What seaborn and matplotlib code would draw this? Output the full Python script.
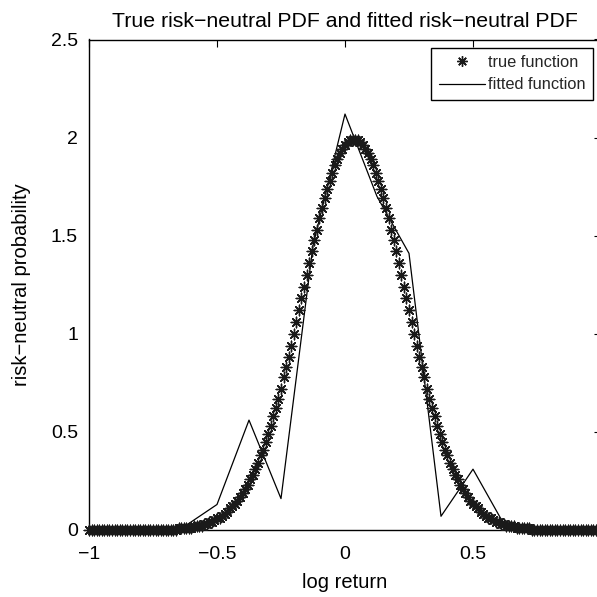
import numpy as np
import matplotlib
matplotlib.use("Agg")
import matplotlib.pyplot as plt
import seaborn as sns
from matplotlib.lines import Line2D

# ---- data ----
x_true = np.round(np.linspace(-1.0, 1.0, 201), 2)
true_pdf = [
    0.00, 0.00, 0.00, 0.00, 0.00, 0.00, 0.00, 0.00, 0.00, 0.00,
    0.00, 0.00, 0.00, 0.00, 0.00, 0.00, 0.00, 0.00, 0.00, 0.00,
    0.00, 0.00, 0.00, 0.00, 0.00, 0.00, 0.00, 0.00, 0.00, 0.00,
    0.00, 0.00, 0.00, 0.00, 0.00,
    0.01, 0.01, 0.01, 0.01, 0.01, 0.01, 0.02, 0.02, 0.02, 0.02,
    0.03, 0.03, 0.04, 0.04, 0.05, 0.06, 0.06, 0.07, 0.08, 0.09,
    0.11, 0.12, 0.13, 0.15, 0.17, 0.19, 0.21, 0.23, 0.26, 0.28,
    0.31, 0.34, 0.38, 0.41, 0.45, 0.49, 0.53, 0.58, 0.62, 0.67,
    0.72, 0.78, 0.83, 0.88, 0.94, 1.00, 1.06, 1.12, 1.18, 1.24,
    1.30, 1.36, 1.42, 1.48, 1.53, 1.59, 1.64, 1.69, 1.74, 1.78,
    1.82, 1.86, 1.89, 1.92, 1.94, 1.96, 1.98, 1.99, 1.99,
    1.99, 1.99, 1.98, 1.96, 1.94, 1.92, 1.89, 1.86, 1.82, 1.78,
    1.74, 1.69, 1.64, 1.59, 1.53, 1.48, 1.42, 1.36, 1.30, 1.24,
    1.18, 1.12, 1.06, 1.00, 0.94, 0.88, 0.83, 0.78, 0.72, 0.67,
    0.62, 0.58, 0.53, 0.49, 0.45, 0.41, 0.38, 0.34, 0.31, 0.28,
    0.26, 0.23, 0.21, 0.19, 0.17, 0.15, 0.13, 0.12, 0.11, 0.09,
    0.08, 0.07, 0.06, 0.06, 0.05, 0.04, 0.04, 0.03, 0.03, 0.02,
    0.02, 0.02, 0.02, 0.01, 0.01, 0.01, 0.01, 0.01, 0.01,
    0.00, 0.00, 0.00, 0.00, 0.00, 0.00, 0.00, 0.00, 0.00, 0.00,
    0.00, 0.00, 0.00, 0.00, 0.00, 0.00, 0.00, 0.00, 0.00, 0.00,
    0.00, 0.00, 0.00, 0.00, 0.00, 0.00, 0.00, 0.00,
]

x_fit = [-1.0, -0.875, -0.75, -0.625, -0.5, -0.375, -0.25, -0.125, 0.0,
         0.125, 0.25, 0.375, 0.5, 0.625, 0.75, 0.875, 1.0]
fit_pdf = [0.0, 0.0, 0.0, 0.02, 0.13, 0.56, 0.16, 1.45, 2.12,
           1.70, 1.41, 0.07, 0.31, 0.02, 0.0, 0.0, 0.0]

x_ticks = [-1, -0.5, 0, 0.5, 1]
x_ticklabels = ["\u22121", "\u22120.5", "0", "0.5", ""]  # "1" falls off the cropped edge
y_ticks = [0, 0.5, 1, 1.5, 2, 2.5]
y_ticklabels = ["0", "0.5", "1", "1.5", "2", "2.5"]

title = "True risk\u2212neutral PDF and fitted risk\u2212neutral PDF"
xlabel = "log return"
ylabel = "risk\u2212neutral probability"
legend_labels = ["true function", "fitted function"]

# ---- style ----
sns.set_style("white")
plt.rcParams["font.family"] = ["Liberation Sans", "DejaVu Sans"]
plt.rcParams["axes.unicode_minus"] = True

fig = plt.figure(figsize=(5.97, 5.97), dpi=100)
W = H = 597.0
ax = fig.add_axes([89 / W, (H - 530) / H, (601 - 89) / W, (530 - 39.5) / H])

asterisk = (8, 2, 0)
mark_color = "#1a1a1a"
sns.scatterplot(x=x_true, y=true_pdf, ax=ax, marker=asterisk, s=58,
                color=mark_color, edgecolor=mark_color, linewidth=1.0,
                legend=False, zorder=3, clip_on=False)
sns.lineplot(x=x_fit, y=fit_pdf, ax=ax, color="black", linewidth=0.9,
             estimator=None, sort=False, zorder=2)

ax.set_xlim(-1, 1)
ax.set_ylim(0, 2.5)
ax.set_xticks(x_ticks)
ax.set_xticklabels(x_ticklabels)
ax.set_yticks(y_ticks)
ax.set_yticklabels(y_ticklabels)
ax.tick_params(direction="in", length=5, width=0.8, top=True, right=True,
               labelsize=14, colors="black")
ax.tick_params(axis="x", pad=11.5)
ax.tick_params(axis="y", pad=8)
for s in ax.spines.values():
    s.set_visible(True)
    s.set_color("black")
    s.set_linewidth(1.0)

ax.set_title(title, fontsize=15.3, pad=9, color="black")
ax.set_xlabel(xlabel, fontsize=14.5, labelpad=7, color="black")
ax.set_ylabel(ylabel, fontsize=14.5, labelpad=14, color="black")

handles = [
    Line2D([], [], linestyle="", marker=asterisk, color=mark_color,
           markersize=7.5, markeredgewidth=1.0),
    Line2D([], [], color="black", linewidth=0.9),
]
leg = ax.legend(handles, legend_labels, loc="upper right", fontsize=11.8,
                frameon=True, fancybox=False, framealpha=1, edgecolor="black",
                borderaxespad=0.5, handlelength=2.8, handletextpad=0.2,
                borderpad=0.45, labelspacing=0.45)
leg.get_frame().set_linewidth(1.0)

fig.savefig("out.png", dpi=100)
